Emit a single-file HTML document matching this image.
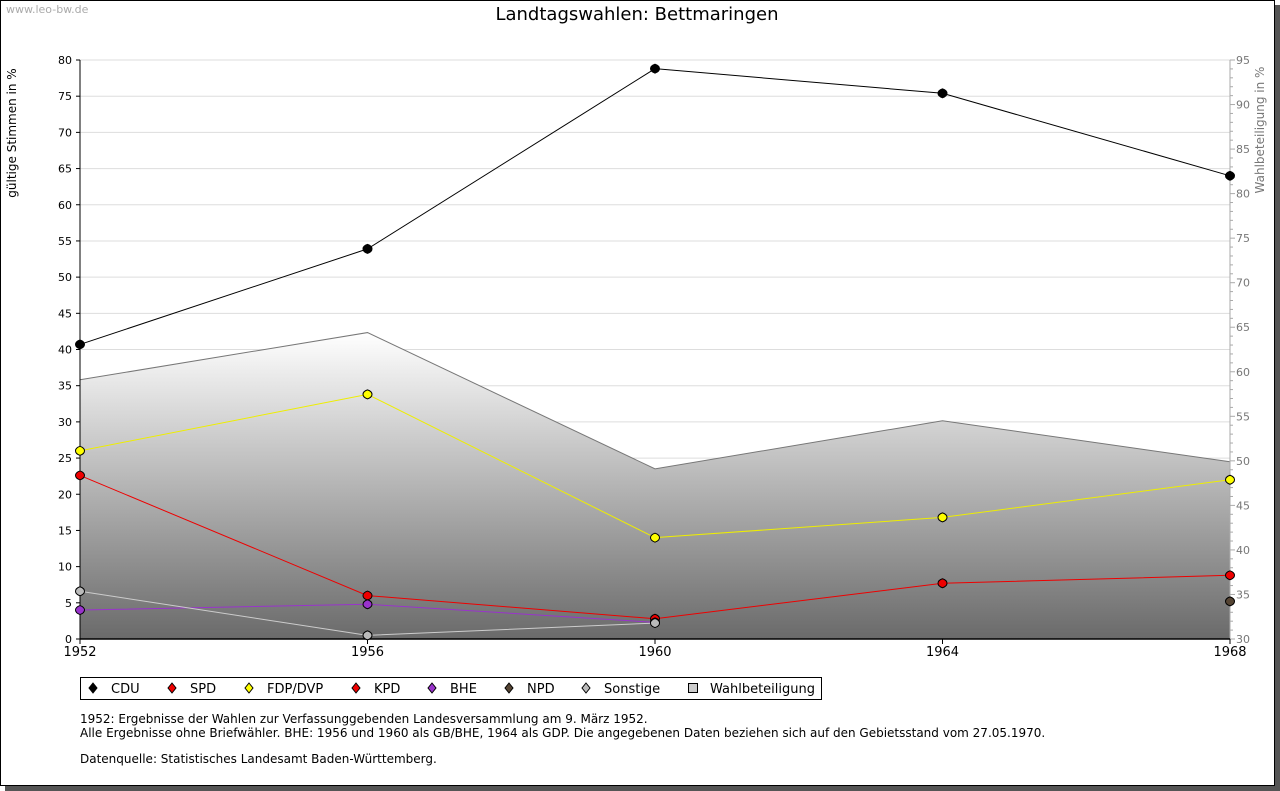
<!DOCTYPE html>
<html><head><meta charset="utf-8"><style>
body{margin:0;width:1280px;height:791px;background:#fff;font-family:"DejaVu Sans","Liberation Sans",sans-serif;overflow:hidden;position:relative}
#frame{position:absolute;left:0;top:0;width:1273px;height:784px;border:1px solid #000;box-shadow:5px 5px 0 #555;background:#fff}
.t{position:absolute;white-space:nowrap}
</style></head><body>
<div id="frame"></div>
<div class="t" style="left:6px;top:3px;font-size:11px;color:#aaa">www.leo-bw.de</div>
<div class="t" style="left:0;width:1274px;text-align:center;top:4px;font-size:18px">Landtagswahlen: Bettmaringen</div>
<svg id="c" width="1280" height="791" style="position:absolute;left:0;top:0">
<defs><linearGradient id="g" x1="0" y1="0" x2="0" y2="1"><stop offset="0" stop-color="#ffffff"/><stop offset="1" stop-color="#6a6a6a"/></linearGradient></defs>
</svg>
<div class="t" style="left:80px;top:712px;font-size:12px">1952: Ergebnisse der Wahlen zur Verfassunggebenden Landesversammlung am 9. März 1952.</div>
<div class="t" style="left:80px;top:726px;font-size:12px">Alle Ergebnisse ohne Briefwähler. BHE: 1956 und 1960 als GB/BHE, 1964 als GDP. Die angegebenen Daten beziehen sich auf den Gebietsstand vom 27.05.1970.</div>
<div class="t" style="left:80px;top:752px;font-size:12px">Datenquelle: Statistisches Landesamt Baden-Württemberg.</div>
<script>
const years=[1952,1956,1960,1964,1968];
const cdu=[40.7,53.9,78.8,75.4,64.0];
const spd=[22.6,6.0,2.8,7.7,8.8];
const fdp=[26.0,33.8,14.0,16.8,22.0];
const kpd=[null,null,null,null,null];
const bhe=[4.0,4.8,2.3,null,null];
const npd=[null,null,null,null,5.2];
const sonst=[6.6,0.5,2.2,null,null];
const turnout=[59.1,64.4,49.1,54.5,49.9];
const leftTicks=[0,5,10,15,20,25,30,35,40,45,50,55,60,65,70,75,80];
const rightTicks=[30,35,40,45,50,55,60,65,70,75,80,85,90,95];
const X0=80,X1=1230,Y0=639,Y1=60;
const F='DejaVu Sans';
const xs=i=>X0+(X1-X0)*(years[i]-years[0])/(years[years.length-1]-years[0]);
const yl=v=>Y0-(Y0-Y1)*v/80;
const yr=v=>Y0-(Y0-Y1)*(v-30)/65;
const svg=document.getElementById('c');const NS='http://www.w3.org/2000/svg';
function mk(t,a,txt){const e=document.createElementNS(NS,t);for(const k in a)e.setAttribute(k,a[k]);if(txt!=null)e.textContent=txt;svg.appendChild(e);return e;}
leftTicks.forEach(v=>{if(v>0){const l=mk('line',{x1:X0,x2:X1,y1:yl(v),y2:yl(v),stroke:'#ddd'});}
const t=mk('text',{x:72,y:yl(v)+4,'text-anchor':'end','font-size':11,'font-family':F},v);
mk('line',{x1:76,x2:80,y1:yl(v),y2:yl(v),stroke:'#000'});});
let d='M'+xs(0)+','+Y0;turnout.forEach((v,i)=>d+=' L'+xs(i)+','+yr(v));d+=' L'+xs(4)+','+Y0+'Z';
const ar=mk('path',{d:d,fill:'url(#g)',stroke:'none'});
const tl=mk('polyline',{points:turnout.map((v,i)=>xs(i)+','+yr(v)).join(' '),fill:'none',stroke:'#777'});
mk('line',{x1:X1,x2:X1,y1:Y1,y2:Y0,stroke:'#aaa'});
for(let v=30;v<=95;v++){mk('line',{x1:X1,x2:X1+(v%5?3:5),y1:yr(v),y2:yr(v),stroke:'#aaa'});}
rightTicks.forEach(v=>{const t=mk('text',{x:1236,y:yr(v)+4,'font-size':11,fill:'#777','font-family':F},v);});
mk('line',{x1:X0,x2:X0,y1:Y1,y2:Y0,stroke:'#000'});
mk('line',{x1:X0,x2:X1,y1:Y0,y2:Y0,stroke:'#000','stroke-width':1.5});
years.forEach((y,i)=>{mk('line',{x1:xs(i),x2:xs(i),y1:Y0,y2:Y0+5,stroke:'#000'});const t=mk('text',{x:xs(i),y:656,'text-anchor':'middle','font-size':13,'font-family':F},y);});
const yt=mk('text',{transform:'translate(16,133) rotate(-90)','text-anchor':'middle','font-size':12,'font-family':F},'gültige Stimmen in %');
const rt=mk('text',{transform:'translate(1264,130) rotate(-90)','text-anchor':'middle','font-size':12,fill:'#777','font-family':F},'Wahlbeteiligung in %');
const series=[['cdu',cdu,'#000','#000'],['spd',spd,'#e00','#e00'],['fdp',fdp,'#ee0','#ff0'],['kpd',kpd,'#b00','#c00'],['bhe',bhe,'#93c','#93c'],['npd',npd,'#543','#543'],['sonstige',sonst,'#ccc','#bbb']];
series.forEach(([n,vals,lc,fc])=>{let pts=[];vals.forEach((v,i)=>{if(v!=null)pts.push(xs(i)+','+yl(v));});
if(pts.length>1){const l=mk('polyline',{points:pts.join(' '),fill:'none',stroke:lc,'stroke-width':1});}
vals.forEach((v,i)=>{if(v==null)return;const x=xs(i),y=yl(v);const p=mk('path',{d:`M${x},${y-4.5} Q${x+4.5},${y-3} ${x+4.5},${y} Q${x+4.5},${y+3} ${x},${y+4.5} Q${x-4.5},${y+3} ${x-4.5},${y} Q${x-4.5},${y-3} ${x},${y-4.5}Z`,fill:fc,stroke:'#000','stroke-width':1});});});
const lb=mk('rect',{x:80.5,y:677.5,width:741,height:22,fill:'#fff',stroke:'#000'});
const leg=[['CDU','#000',93],['SPD','#e00',172],['FDP/DVP','#ff0',249],['KPD','#e00',356],['BHE','#93c',432],['NPD','#543',509],['Sonstige','#bbb',586]];
leg.forEach(([n,c,x])=>{const p=mk('path',{d:`M${x},${683} L${x+4},${688} L${x},${693} L${x-4},${688}Z`,fill:c,stroke:'#000'});
const t=mk('text',{x:x+18,y:693,'font-size':13,'font-family':F},n);});
mk('rect',{x:688.5,y:683.5,width:9,height:9,fill:'#ccc',stroke:'#000'});
const wt=mk('text',{x:710,y:693,'font-size':13,'font-family':F},'Wahlbeteiligung');
</script>
</body></html>
